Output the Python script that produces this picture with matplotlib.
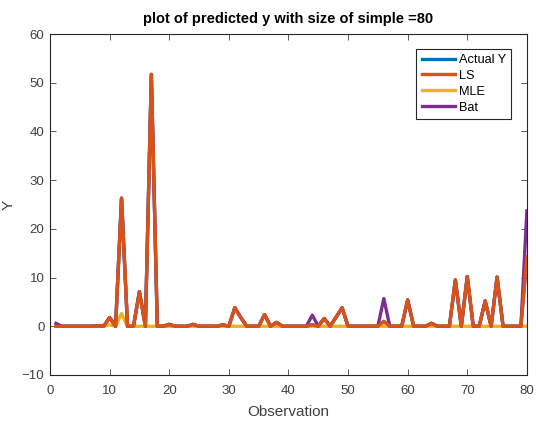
import numpy as np
import matplotlib.pyplot as plt

plt.rcParams['font.family'] = ['Liberation Sans', 'DejaVu Sans']

obs = np.arange(1, 81)

# LS predictions (obs 1..80)
ls = [0, 0, 0, 0, 0, 0, 0, 0.1, 0, 1.8,
      0, 26.3, 0, 0, 7.1, 0, 51.7, 0, 0, 0.4,
      0, 0, 0, 0.4, 0, 0, 0, 0, 0.3, 0,
      3.8, 1.8, 0, 0, 0, 2.4, 0, 0.8, 0, 0,
      0, 0, 0, 0.3, 0, 1.6, 0, 1.9, 3.8, 0,
      0, 0, 0, 0, 0, 1.0, 0, 0, 0, 5.4,
      0, 0, 0, 0.6, 0, 0, 0, 9.5, 0, 10.2,
      0, 0, 5.2, 0, 10.1, 0, 0, 0, 0, 14.3]

# Actual Y is hidden beneath LS in the reference
actual = list(ls)

mle = [0] * 80
mle[9] = 0.3
mle[11] = 2.6

bat = list(ls)
bat[0] = 0.6
bat[43] = 2.3
bat[55] = 5.7
bat[79] = 23.7

fig = plt.figure(figsize=(5.36, 4.23), dpi=100)
ax = fig.add_axes([0.0933, 0.1135, 0.8897, 0.8061])

lw = 2.4
ax.plot(obs, actual, color=(0, 0.447, 0.741), lw=lw, zorder=1)
ax.plot(obs, mle, color=(0.929, 0.694, 0.125), lw=lw, zorder=2)
ax.plot(obs, bat, color=(0.494, 0.184, 0.556), lw=lw, zorder=3)
ax.plot(obs, ls, color=(0.85, 0.325, 0.098), lw=lw, zorder=4)

# legend in MATLAB order
h = [plt.Line2D([], [], color=c, lw=lw) for c in
     [(0, 0.447, 0.741), (0.85, 0.325, 0.098), (0.929, 0.694, 0.125), (0.494, 0.184, 0.556)]]
leg = ax.legend(h, ['Actual Y', 'LS', 'MLE', 'Bat'], loc='upper right',
                bbox_to_anchor=(0.98, 0.975), fancybox=False, framealpha=1,
                edgecolor='#262626', fontsize=9.2, handlelength=2.6,
                handletextpad=0.3, borderpad=0.4, labelspacing=0.3)
leg.get_frame().set_linewidth(0.8)

ax.set_xlim(0, 80)
ax.set_ylim(-10, 60)
ax.set_xticks(range(0, 81, 10))
ax.set_yticks(range(-10, 61, 10))
ax.tick_params(direction='in', top=True, right=True, labelsize=9.5,
               colors='#404040', length=4, width=0.6)
ax.tick_params(axis='x', pad=7)
ax.tick_params(axis='y', pad=4)
for s in ax.spines.values():
    s.set_color('#262626')
    s.set_linewidth(0.8)

ax.set_xlabel('Observation', fontsize=11, color='#404040', labelpad=6)
ax.set_ylabel('Y', fontsize=11, color='#404040')
ax.yaxis.set_label_coords(-0.072, 0.5)
ax.set_title('plot of predicted y with size of simple =80', fontsize=10.5,
             fontweight='bold', pad=8)

fig.savefig('out.png', dpi=100)
